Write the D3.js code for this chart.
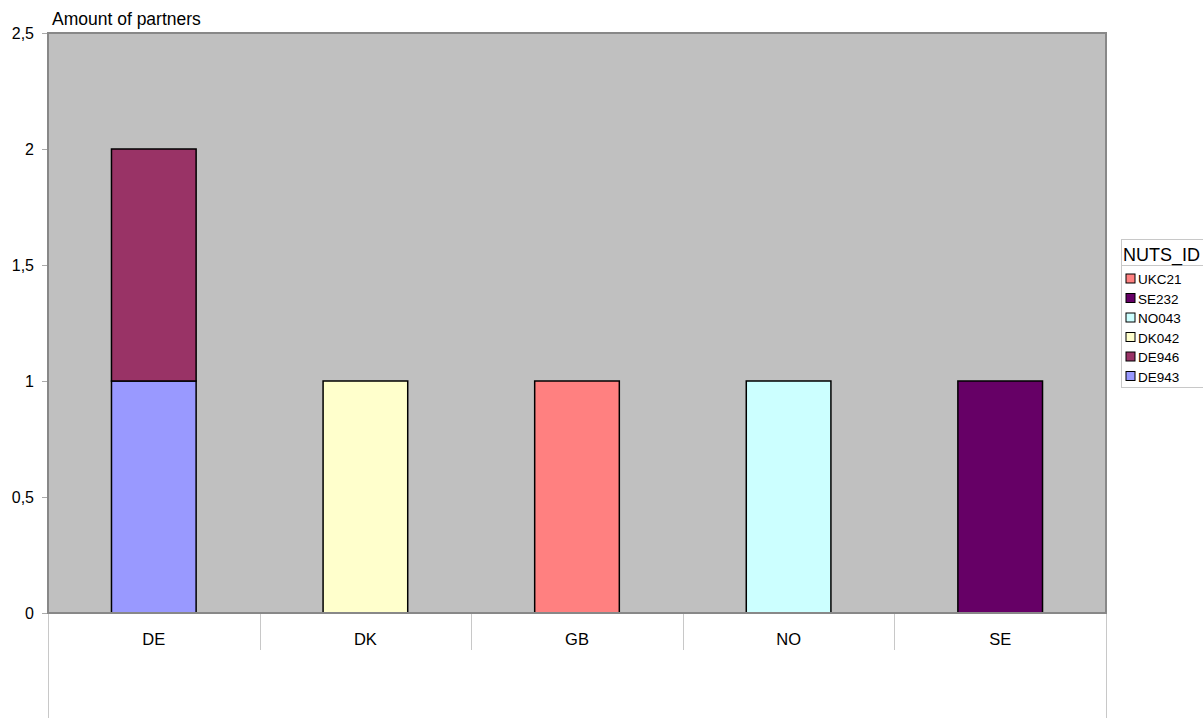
<!DOCTYPE html>
<html>
<head>
<meta charset="utf-8">
<script src="https://cdn.jsdelivr.net/npm/d3@7"></script>
<style>
  html, body { margin: 0; padding: 0; background: #fff; }
  svg { display: block; font-family: "Liberation Sans", Arial, sans-serif; }
</style>
</head>
<body>
<svg id="chart" width="1203" height="718"></svg>
<script>
// Countries along the x axis
const categories = ["DE", "DK", "GB", "NO", "SE"];
// NUTS regions stacked in each country (bottom to top)
const regions = ["DE943", "DE946", "DK042", "UKC21", "NO043", "SE232"];
const regionColors = ["#9999FF", "#993366", "#FFFFCC", "#FF8080", "#CCFFFF", "#660066"];
// Partner counts per region, per country
const DE943 = [1, 0, 0, 0, 0];
const DE946 = [1, 0, 0, 0, 0];
const DK042 = [0, 1, 0, 0, 0];
const UKC21 = [0, 0, 1, 0, 0];
const NO043 = [0, 0, 0, 1, 0];
const SE232 = [0, 0, 0, 0, 1];
// Legend order
const legendOrder = ["UKC21", "SE232", "NO043", "DK042", "DE946", "DE943"];
const yTicks = [0, 0.5, 1, 1.5, 2, 2.5];
const yTitle = "Amount of partners";
const legendTitle = "NUTS_ID";

const seriesValues = { DE943, DE946, DK042, UKC21, NO043, SE232 };
const table = categories.map((c, i) => {
  const row = { cat: c };
  regions.forEach(r => row[r] = seriesValues[r][i]);
  return row;
});
const stacked = d3.stack().keys(regions)(table);
const color = d3.scaleOrdinal().domain(regions).range(regionColors);

const svg = d3.select("#chart");
const plot = { left: 48, right: 1106, top: 33, bottom: 613 };

const x = d3.scaleBand().domain(categories).range([plot.left, plot.right]).paddingInner(0).paddingOuter(0);
const y = d3.scaleLinear().domain([0, 2.5]).range([plot.bottom, plot.top]);

// Plot background
svg.append("rect")
  .attr("x", plot.left).attr("y", plot.top)
  .attr("width", plot.right - plot.left).attr("height", plot.bottom - plot.top)
  .attr("fill", "#C0C0C0");

// Category table frame below the plot
const frame = svg.append("g").attr("stroke", "#c8c8c8").attr("stroke-width", 1).attr("fill", "none");
frame.append("line").attr("x1", plot.left + 0.5).attr("x2", plot.left + 0.5).attr("y1", plot.bottom).attr("y2", 718);
frame.append("line").attr("x1", plot.right + 0.5).attr("x2", plot.right + 0.5).attr("y1", plot.bottom).attr("y2", 718);
categories.slice(1).forEach(c => {
  const xx = Math.round(x(c)) + 0.5;
  frame.append("line").attr("x1", xx).attr("x2", xx).attr("y1", plot.bottom).attr("y2", 650);
});

// Bars
const barW = x.bandwidth() * 0.4;
svg.append("g").selectAll("g").data(stacked).join("g")
  .attr("fill", d => color(d.key))
  .selectAll("rect").data(d => d.filter(p => p[1] - p[0] > 0)).join("rect")
  .attr("x", d => x(d.data.cat) + (x.bandwidth() - barW) / 2)
  .attr("width", barW)
  .attr("y", d => y(d[1]))
  .attr("height", d => y(d[0]) - y(d[1]))
  .attr("stroke", "#000")
  .attr("stroke-width", 1.5);

// Plot border
svg.append("rect")
  .attr("x", plot.left).attr("y", plot.top)
  .attr("width", plot.right - plot.left).attr("height", plot.bottom - plot.top)
  .attr("fill", "none").attr("stroke", "#888").attr("stroke-width", 2);

// Y axis
const yAxis = d3.axisLeft(y).tickValues(yTicks).tickSize(5).tickPadding(8)
  .tickFormat(d => String(d).replace(".", ","));
const ya = svg.append("g").attr("transform", `translate(${plot.left - 1},0)`).call(yAxis);
ya.attr("font-family", null).attr("font-size", null);
ya.select(".domain").remove();
ya.selectAll(".tick line").attr("stroke", "#aaa");
ya.selectAll(".tick text").attr("font-size", 16).attr("fill", "#000");

// Y title
svg.append("text").attr("x", 52).attr("y", 25).attr("font-size", 17.5).text(yTitle);

// Category labels
svg.append("g").selectAll("text").data(categories).join("text")
  .attr("x", d => x(d) + x.bandwidth() / 2)
  .attr("y", 645)
  .attr("text-anchor", "middle")
  .attr("font-size", 16.5)
  .text(d => d);

// Legend
const lg = svg.append("g");
const lgX = 1121, lgY = 239;
lg.append("rect").attr("x", lgX + 0.5).attr("y", lgY + 0.5).attr("width", 100).attr("height", 148)
  .attr("fill", "#fff").attr("stroke", "#c8c8c8");
lg.append("line").attr("x1", lgX).attr("x2", lgX + 100).attr("y1", 265.5).attr("y2", 265.5).attr("stroke", "#c8c8c8");
lg.append("text").attr("x", lgX + 2).attr("y", 261).attr("font-size", 18).text(legendTitle);
legendOrder.forEach((k, i) => {
  const cy = 279 + i * 19.5;
  lg.append("rect").attr("x", lgX + 5).attr("y", cy - 5).attr("width", 9).attr("height", 9)
    .attr("fill", color(k)).attr("stroke", "#000").attr("stroke-width", 1);
  lg.append("text").attr("x", lgX + 17).attr("y", cy + 5).attr("font-size", 13.5).text(k);
});
</script>
</body>
</html>
